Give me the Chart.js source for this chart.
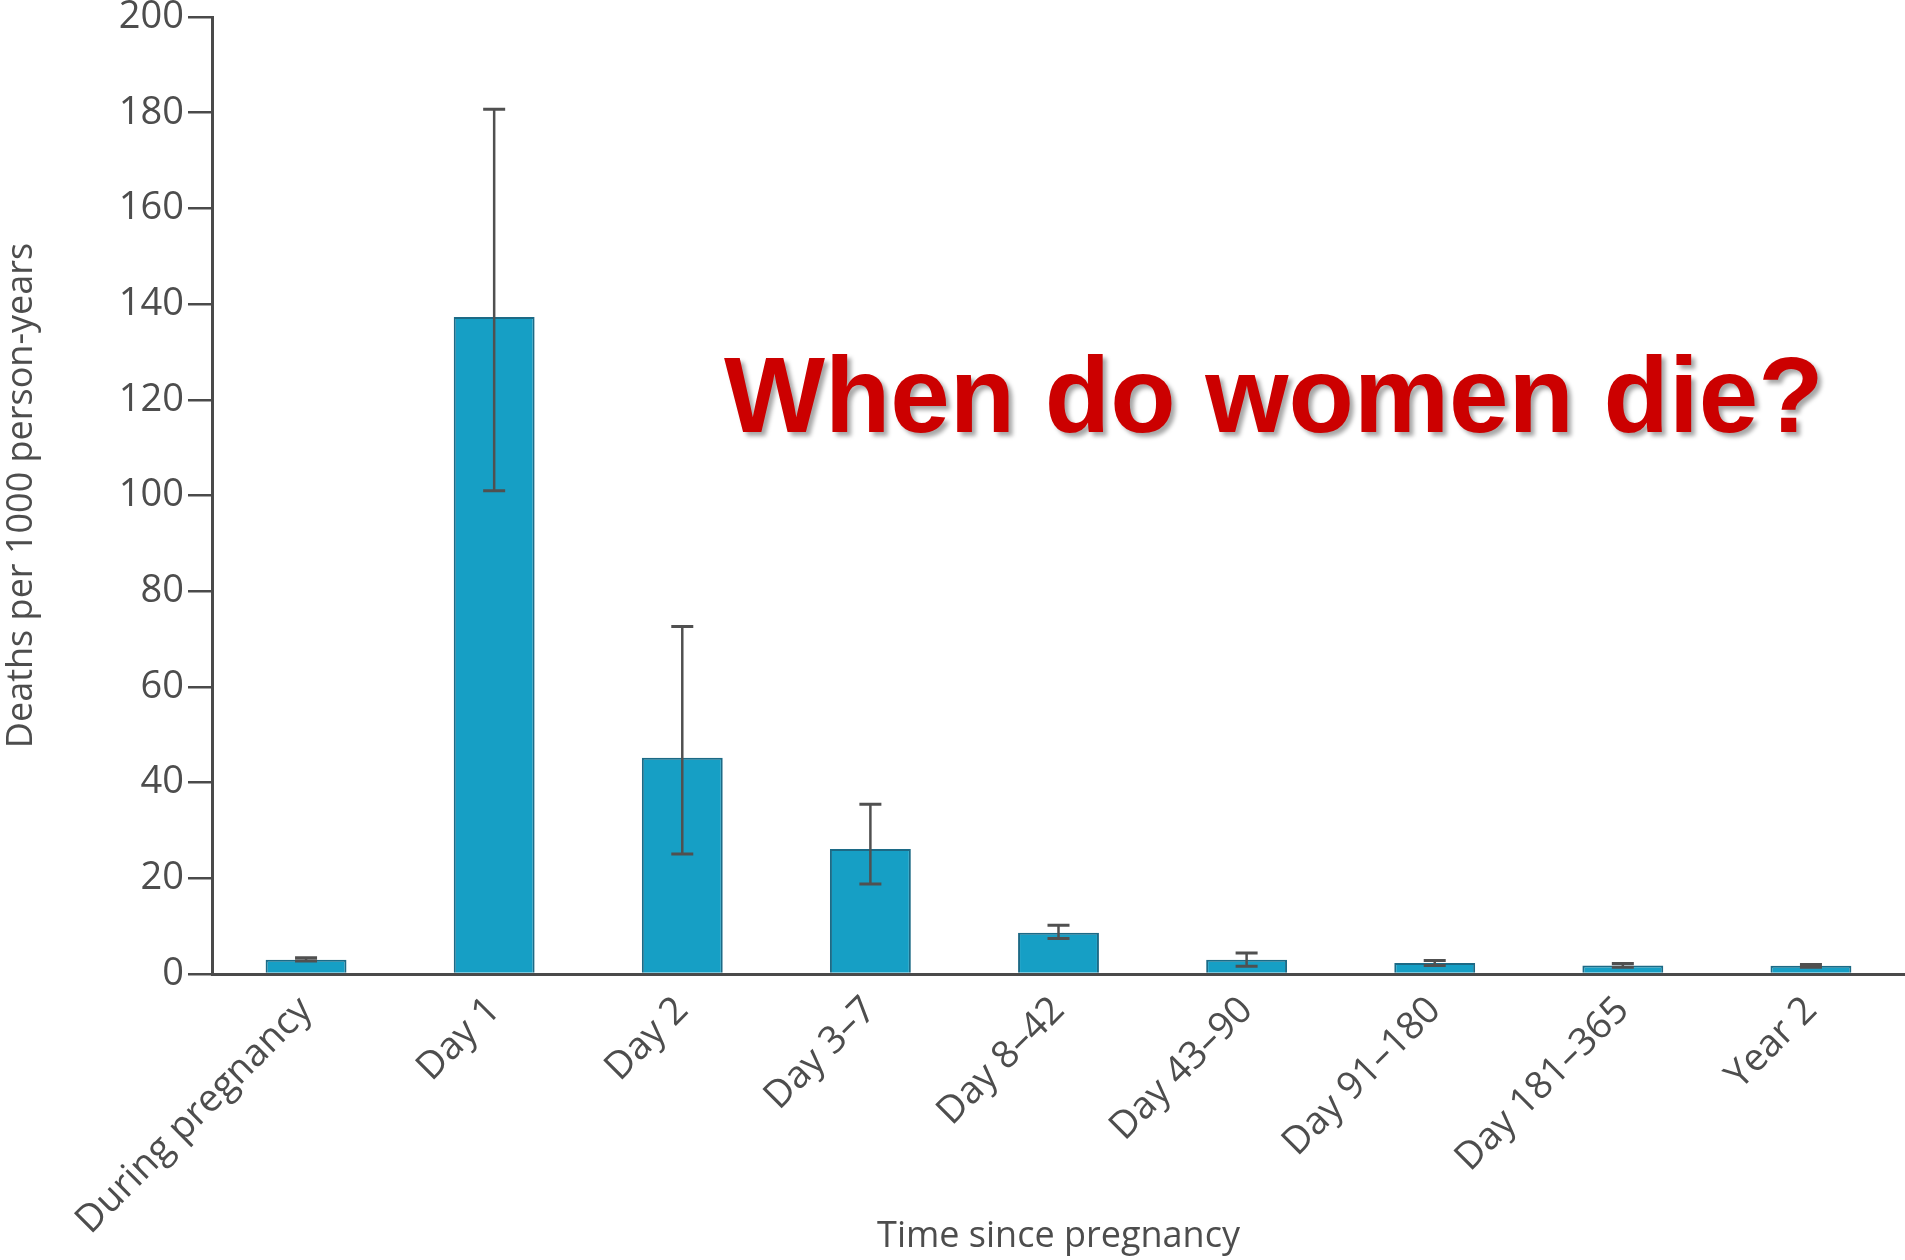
<!DOCTYPE html>
<html>
<head>
<meta charset="utf-8">
<script src="https://cdn.jsdelivr.net/npm/chart.js@4/dist/chart.umd.min.js"></script>
<style>
  html, body { margin: 0; padding: 0; background: #fff; }
  #wrap { width: 1905px; height: 1260px; position: relative; }
</style>
</head>
<body>
<div id="wrap"><canvas id="chart"></canvas></div>
<script>
// categories on the x axis
const labels = [
  "During pregnancy",
  "Day 1",
  "Day 2",
  "Day 3–7",
  "Day 8–42",
  "Day 43–90",
  "Day 91–180",
  "Day 181–365",
  "Year 2",
];
// deaths per 1000 person-years
const deaths = [3.0, 137.3, 45.2, 26.1, 8.6, 3.0, 2.3, 1.8, 1.7];
// lower / upper ends of the error bars
const errLow = [2.7, 101, 25.1, 18.8, 7.4, 1.6, 1.8, 1.4, 1.4];
const errHigh = [3.4, 180.7, 72.6, 35.5, 10.2, 4.4, 2.8, 2.2, 2.0];
// y axis ticks
const yTicks = [0, 20, 40, 60, 80, 100, 120, 140, 160, 180, 200];

const textColor = "#4d4d4d";
const axisColor = "#4a4a4a";

/**
 * draws the confidence interval whiskers on top of the bars
 */
const errorBars = {
  id: "errorBars",
  afterDatasetsDraw(chart) {
    const { ctx } = chart;
    const x = chart.scales.x;
    const y = chart.scales.y;
    ctx.save();
    ctx.strokeStyle = "#505050";
    ctx.lineCap = "butt";
    for (let i = 0; i < labels.length; i++) {
      const px = x.getPixelForValue(i);
      const top = y.getPixelForValue(errHigh[i]);
      const bottom = y.getPixelForValue(errLow[i]);
      ctx.lineWidth = 2.5;
      ctx.beginPath();
      ctx.moveTo(px, top);
      ctx.lineTo(px, bottom);
      ctx.stroke();
      ctx.lineWidth = 3;
      ctx.beginPath();
      ctx.moveTo(px - 11, top);
      ctx.lineTo(px + 11, top);
      ctx.moveTo(px - 11, bottom);
      ctx.lineTo(px + 11, bottom);
      ctx.stroke();
    }
    ctx.restore();
  },
};

/**
 * the red slide heading over the chart
 */
const heading = {
  id: "heading",
  afterDraw(chart) {
    const { ctx } = chart;
    ctx.save();
    ctx.font = "bold 107px 'Liberation Sans', Arial, sans-serif";
    ctx.textAlign = "left";
    ctx.textBaseline = "alphabetic";
    ctx.shadowColor = "rgba(0,0,0,0.35)";
    ctx.shadowOffsetX = 4;
    ctx.shadowOffsetY = 4;
    ctx.shadowBlur = 4;
    ctx.fillStyle = "#cc0000";
    ctx.fillText("When do women die?", chart.width * 0.38, chart.height * 0.343);
    ctx.restore();
  },
};

const config = {
  type: "bar",
  data: {
    labels: labels,
    datasets: [
      {
        data: deaths,
        backgroundColor: "#169fc5",
        borderColor: "#1c6a86",
        borderWidth: 2,
        barPercentage: 0.43,
        categoryPercentage: 1,
      },
    ],
  },
  options: {
    responsive: true,
    maintainAspectRatio: false,
    animation: false,
    layout: { padding: 0 },
    plugins: {
      legend: { display: false },
      tooltip: { enabled: false },
    },
    scales: {
      x: {
        grid: { display: false, drawTicks: false },
        border: { display: true, color: axisColor, width: 3 },
        ticks: {
          color: textColor,
          font: { family: "'Open Sans', sans-serif", size: 38 },
          minRotation: 45,
          maxRotation: 45,
          padding: 14,
        },
        title: {
          display: true,
          text: "Time since pregnancy",
          color: textColor,
          font: { family: "'Open Sans', sans-serif", size: 36 },
          padding: { top: 0, bottom: 2 },
        },
        afterFit(scale) {
          scale.height = 286;
          scale.paddingLeft = 0;
          scale.paddingRight = 0;
        },
      },
      y: {
        min: 0,
        max: 200,
        afterBuildTicks(scale) {
          scale.ticks = yTicks.map((v) => ({ value: v }));
        },
        grid: {
          drawOnChartArea: false,
          tickLength: 24,
          color: axisColor,
          lineWidth: 2.5,
        },
        border: { display: true, color: axisColor, width: 3 },
        ticks: {
          color: textColor,
          font: { family: "'Open Sans', sans-serif", size: 38 },
          padding: 4,
        },
        title: {
          display: true,
          text: "Deaths per 1000 person-years",
          color: textColor,
          font: { family: "'Open Sans', sans-serif", size: 36 },
          padding: { top: 0, bottom: 0 },
        },
        afterFit(scale) {
          scale.width = 212;
          scale.paddingTop = 17;
          scale.paddingBottom = 0;
        },
      },
    },
  },
  plugins: [errorBars, heading],
};

new Chart(document.getElementById("chart"), config);
</script>
</body>
</html>
